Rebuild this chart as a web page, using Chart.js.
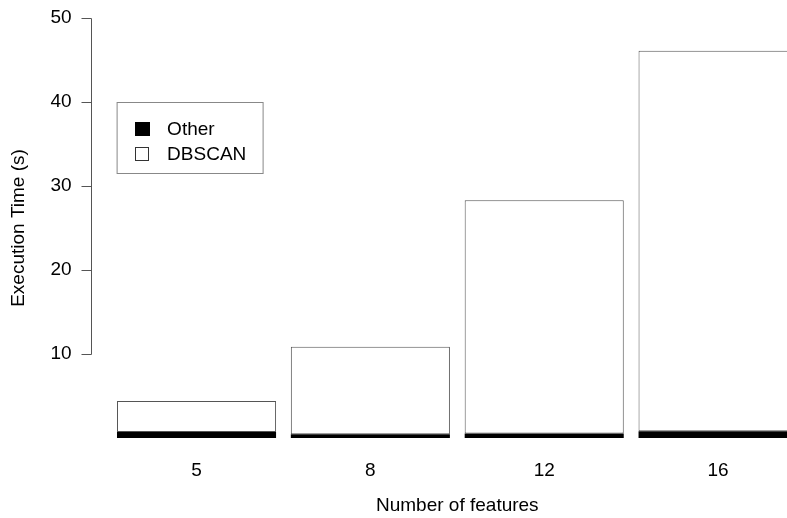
<!DOCTYPE html>
<html>
<head>
<meta charset="utf-8">
<script src="https://cdn.jsdelivr.net/npm/chart.js@4"></script>
<style>
  html, body { margin: 0; padding: 0; background: #fff; overflow: hidden; }
  #wrap { width: 805px; height: 518px; position: relative; }
</style>
</head>
<body>
<div id="wrap"><canvas id="chart"></canvas></div>
<script>
const features = ['5', '8', '12', '16'];
const otherTime = [0.7, 0.45, 0.55, 0.8];
const dbscanTime = [3.7, 10.4, 27.75, 45.3];
const yTicks = [10, 20, 30, 40, 50];
const legendLabels = ['Other', 'DBSCAN'];

const FONT = '"Liberation Sans", Arial, sans-serif';

// R style y axis: line only spans first..last tick, detached from the bars
const rAxis = {
  id: 'rAxis',
  afterDraw(chart) {
    const ctx = chart.ctx;
    const y = chart.scales.y;
    const x0 = Math.round(chart.chartArea.left - 18.6) + 0.5;
    ctx.save();
    ctx.strokeStyle = '#555';
    ctx.lineWidth = 1;
    ctx.beginPath();
    ctx.moveTo(x0, Math.round(y.getPixelForValue(yTicks[0])) + 0.5);
    ctx.lineTo(x0, Math.round(y.getPixelForValue(yTicks[yTicks.length - 1])) + 0.5);
    yTicks.forEach(v => {
      const py = Math.round(y.getPixelForValue(v)) + 0.5;
      ctx.moveTo(x0, py);
      ctx.lineTo(x0 - 10, py);
    });
    ctx.stroke();
    ctx.restore();
  }
};

// boxed legend in the top left of the plot
const boxLegend = {
  id: 'boxLegend',
  afterDraw(chart) {
    const ctx = chart.ctx;
    const left = chart.chartArea.left + 7.5;
    const top = Math.round(chart.scales.y.getPixelForValue(40)) + 0.5;
    ctx.save();
    ctx.strokeStyle = '#888';
    ctx.lineWidth = 1;
    ctx.strokeRect(left, top, 146, 71);
    ctx.font = '19px ' + FONT;
    ctx.textBaseline = 'middle';
    ctx.fillStyle = '#000';
    legendLabels.forEach((lab, i) => {
      const cy = top + 26 + i * 25;
      const sx = Math.round(left + 18) + 0.5;
      if (i === 0) {
        ctx.fillStyle = '#000';
        ctx.fillRect(sx - 0.5, Math.round(cy - 7), 15, 14);
      } else {
        ctx.strokeStyle = '#333';
        ctx.strokeRect(sx, Math.round(cy - 7) + 0.5, 13, 13);
      }
      ctx.fillStyle = '#000';
      ctx.fillText(lab, left + 50, cy + 1);
    });
    ctx.restore();
  }
};

Chart.defaults.font.family = FONT;
Chart.defaults.color = '#000';

new Chart(document.getElementById('chart').getContext('2d'), {
  type: 'bar',
  data: {
    labels: features,
    datasets: [
      {
        label: 'Other',
        data: otherTime,
        backgroundColor: '#000',
        borderColor: '#000',
        borderWidth: 0,
        categoryPercentage: 1.0,
        barPercentage: 0.915
      },
      {
        label: 'DBSCAN',
        data: dbscanTime,
        backgroundColor: '#fff',
        borderColor: '#555',
        borderWidth: 1,
        borderSkipped: false,
        categoryPercentage: 1.0,
        barPercentage: 0.915
      }
    ]
  },
  options: {
    responsive: true,
    maintainAspectRatio: false,
    animation: false,
    devicePixelRatio: 1,
    layout: { padding: { top: 18, right: 0, left: 0, bottom: 0 } },
    scales: {
      x: {
        stacked: true,
        grid: { display: false },
        border: { display: false },
        ticks: { font: { size: 19 }, padding: 13, maxRotation: 0 },
        title: {
          display: true,
          text: 'Number of features',
          font: { size: 19 },
          padding: { top: 0, bottom: 1 }
        },
        afterFit: (scale) => { scale.height = 80; }
      },
      y: {
        stacked: true,
        min: 0,
        max: 50,
        grid: { display: false },
        border: { display: false },
        ticks: {
          stepSize: 10,
          font: { size: 19 },
          padding: 30,
          callback: (v) => (yTicks.includes(v) ? String(v) : null)
        },
        title: {
          display: true,
          text: 'Execution Time (s)',
          font: { size: 19 },
          padding: { top: 7, bottom: 0 }
        },
        afterFit: (scale) => {
          scale.width = 109.6;
          // tick padding would otherwise push the plot top down
          scale.paddingTop = 0;
          scale.paddingBottom = 0;
        }
      }
    },
    plugins: {
      legend: { display: false },
      tooltip: { enabled: false }
    }
  },
  plugins: [rAxis, boxLegend]
});
</script>
</body>
</html>
